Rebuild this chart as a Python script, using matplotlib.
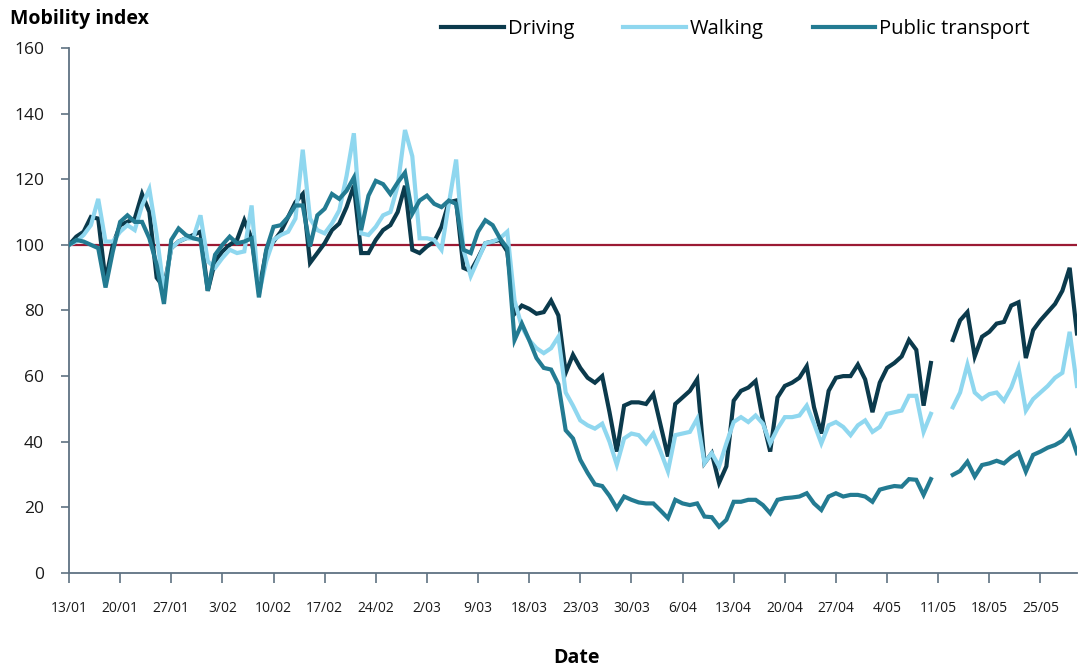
import numpy as np
import matplotlib
matplotlib.use('Agg')
import matplotlib.pyplot as plt

plt.rcParams['font.family'] = ['Open Sans', 'DejaVu Sans']

nan = np.nan

# Tick labels (one every 7 points)
tick_labels = ['13/01', '20/01', '27/01', '3/02', '10/02', '17/02', '24/02', '2/03', '9/03',
               '18/03', '23/03', '30/03', '6/04', '13/04', '20/04', '27/04', '4/05', '11/05',
               '18/05', '25/05']

# Mobility index, daily values (gap = missing days)
driving = [100, 102.5, 104, 108.5, 108, 89, 100, 106, 107, 108,
           115.5, 110, 90, 87, 99, 101, 102, 103, 104, 86,
           95, 98, 100, 101.5, 107.5, 102, 86, 98, 101, 104,
           108.5, 113, 115.5, 94.5, 97.5, 100.5, 104.5, 106.5, 111.5, 118,
           97.5, 97.5, 101.5, 104.5, 106, 110, 118, 98.5, 97.5, 99.5,
           101, 105.5, 113, 113.5, 93, 92, 96, 100.5, 101, 101.5,
           98, 79, 81.5, 80.5, 79, 79.5, 83, 78.5, 61, 66.5,
           62.5, 59.5, 58, 60, 49, 37, 51, 52, 52, 51.5,
           54.5, 45, 35.5, 51.5, 53.5, 55.5, 59, 33.5, 36.5, 27.5,
           32.5, 52.5, 55.5, 56.5, 58.5, 46.5, 37, 53.5, 57, 58,
           59.5, 63, 50.5, 42.5, 55.5, 59.5, 60, 60, 63.5, 59,
           49, 58, 62.5, 64, 66, 71, 68, 51, 64, nan,
           nan, 71, 77, 79.5, 66, 72, 73.5, 76, 76.5, 81.5,
           82.5, 65.5, 74, 77, 79.5, 82, 86, 93, 73]

walking = [100, 101, 103, 106, 114, 101, 101, 104, 106, 104.5,
           112, 117, 103, 86, 99, 101, 102, 102, 109, 95,
           93, 96, 98.5, 97.5, 98, 112, 85, 95, 101.5, 103,
           104, 108, 129, 108, 104.5, 103.5, 106.5, 110.5, 121, 134,
           103.5, 103, 105.5, 109, 110, 118, 135, 127, 102, 102,
           101.5, 98.5, 112.5, 126, 98.5, 90.5, 95.5, 100.5, 101, 102,
           104, 83, 75, 71, 68.5, 67, 68.5, 72, 55, 51,
           46.5, 45, 44, 45.5, 40, 33, 41, 42.5, 42, 39.5,
           42.5, 37, 31, 42, 42.5, 43, 47, 33.5, 36.5, 32.5,
           39.5, 46, 47.5, 46, 48, 45.5, 39.5, 44, 47.5, 47.5,
           48, 51, 45.5, 39.5, 45, 46, 44.5, 42, 45, 46.5,
           43, 44.5, 48.5, 49, 49.5, 54, 54, 43, 48.5, nan,
           nan, 50.5, 55, 63.5, 55, 53, 54.5, 55, 52.5, 56.5,
           62.5, 49.5, 53, 55, 57, 59.5, 61, 73.5, 57]

public_transport = [100, 101.5, 101, 100, 99, 87, 98, 107, 109, 107,
                    107, 102, 94, 82, 101.5, 105, 103, 102, 101.5, 86,
                    97, 100, 102.5, 100.5, 101, 102, 84, 98.5, 105.5, 106,
                    108.5, 112, 112, 99.5, 109, 111, 115.5, 114, 116.5, 120.5,
                    104.5, 115, 119.5, 118.5, 115.5, 119, 122, 109.5, 113.5, 115,
                    112.5, 111.5, 113.5, 112.5, 98.5, 97.5, 104, 107.5, 106, 102,
                    99, 71, 76, 71, 65.5, 62.5, 62, 57.5, 43.5, 41,
                    34.5, 30.5, 27, 26.5, 23.5, 19.7, 23.3, 22.3, 21.5, 21.2,
                    21.2, 19, 16.7, 22.3, 21.2, 20.7, 21.2, 17.2, 17, 14.1,
                    16.2, 21.7, 21.7, 22.3, 22.3, 20.7, 18.2, 22.3, 22.8, 23,
                    23.3, 24.3, 21.2, 19.2, 23.3, 24.3, 23.3, 23.8, 23.8, 23.3,
                    21.7, 25.4, 26, 26.5, 26.3, 28.6, 28.4, 23.8, 28.6, nan,
                    nan, 29.9, 31.1, 33.9, 29.4, 32.9, 33.4, 34.2, 33.4, 35.3,
                    36.7, 30.9, 36, 37, 38.2, 39, 40.3, 43.1, 36.5]

x = np.arange(len(driving))

fig = plt.figure(figsize=(10.85, 6.7), dpi=100)
ax = fig.add_axes([0.0636, 0.1448, 0.9290, 0.7836])

ax.axhline(100, color='#9b1a34', lw=1.6, zorder=1)
ax.plot(x, driving, color='#0b3a4c', lw=3.0, label='Driving', zorder=2, solid_joinstyle='miter')
ax.plot(x, walking, color='#8fd7ef', lw=3.0, label='Walking', zorder=3, solid_joinstyle='miter')
ax.plot(x, public_transport, color='#237b92', lw=3.0, label='Public transport', zorder=4, solid_joinstyle='miter')

ax.set_xlim(0, len(driving) - 1)
ax.set_ylim(0, 160)
ax.set_yticks(range(0, 161, 20))
ax.set_xticks(np.arange(0, 7 * len(tick_labels), 7))
ax.set_xticklabels(tick_labels)

for side in ['top', 'right']:
    ax.spines[side].set_visible(False)
for side in ['left', 'bottom']:
    ax.spines[side].set_color('#5f7282')
    ax.spines[side].set_linewidth(1.3)

ax.tick_params(axis='y', length=6, width=1.2, color='#5f7282', pad=12, labelsize=12.5, labelcolor='#1a1a1a')
ax.tick_params(axis='x', length=7, width=1.2, color='#5f7282', pad=13, labelsize=10, labelcolor='#1a1a1a')

fig.text(0.009, 0.972, 'Mobility index', fontsize=14, fontweight='bold', va='center', ha='left')
fig.text(0.5315, 0.003, 'Date', fontsize=14, fontweight='bold', va='bottom', ha='center')

fig.legend(loc='center', bbox_to_anchor=(0.678, 0.957), ncol=3, frameon=False,
           fontsize=14.5, handlelength=3.1, handletextpad=0.2, columnspacing=2.45)

fig.savefig('out.png', dpi=100)
